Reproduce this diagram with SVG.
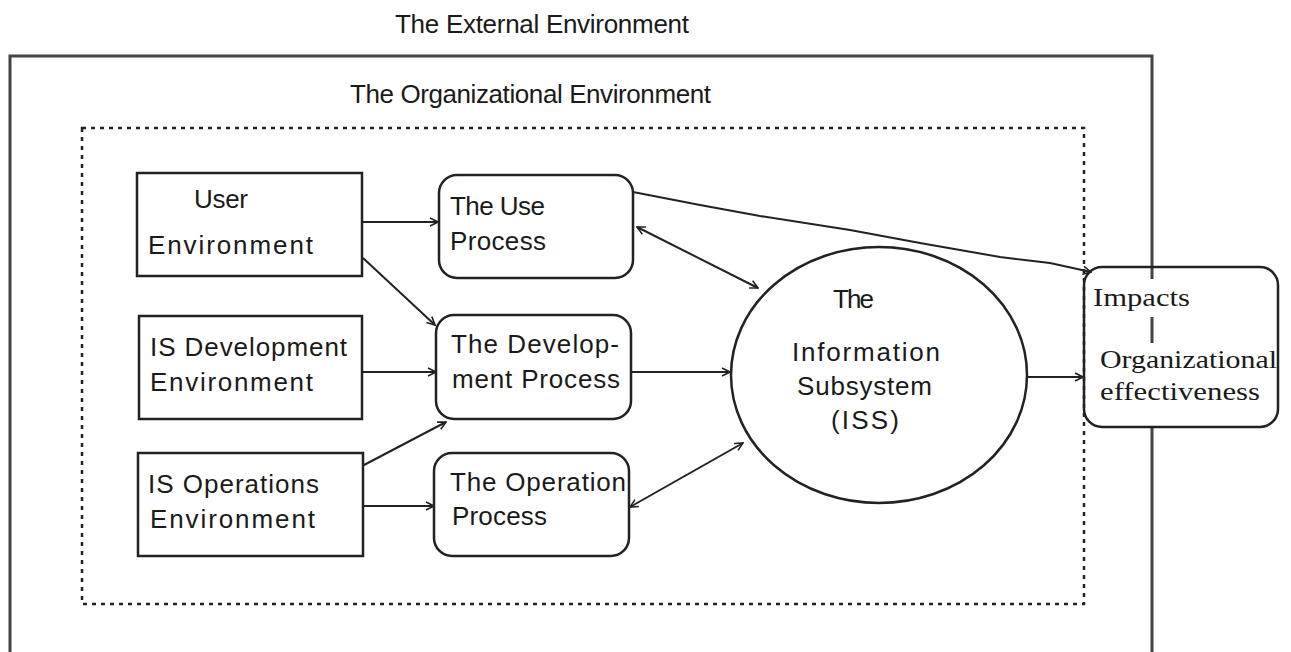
<svg xmlns="http://www.w3.org/2000/svg" width="1291" height="652" viewBox="0 0 1291 652">
<defs>
<style>
.t{font-family:"Liberation Sans",Arial,sans-serif;font-size:26px;fill:#1a1a1a}
.s{font-family:"Liberation Serif","Times New Roman",serif;font-size:26px;fill:#1a1a1a}
.box{fill:none;stroke:#222;stroke-width:2.5}
.c{fill:none;stroke:#222;stroke-width:2}
</style>
<marker id="ah" viewBox="0 0 10 10" refX="9" refY="5" markerWidth="10" markerHeight="10" markerUnits="userSpaceOnUse" orient="auto-start-reverse">
<path d="M1,1 L9,5 L1,9" fill="none" stroke="#222" stroke-width="1.6"/>
</marker>
</defs>
<rect width="1291" height="652" fill="#fff"/>
<g id="external">
<path d="M10,652 L10,56 L1152,56 L1152,279 M1152,317 L1152,343 M1152,427 L1152,652" fill="none" stroke="#444" stroke-width="3"/>
<text class="t" x="395" y="33" textLength="294" lengthAdjust="spacing">The External Environment</text>
</g>
<g id="organizational">
<rect x="82" y="128" width="1002" height="476" fill="none" stroke="#222" stroke-width="2.5" stroke-dasharray="4,5"/>
<text class="t" x="350" y="103" textLength="361" lengthAdjust="spacing">The Organizational Environment</text>
</g>
<g id="user-env">
<rect class="box" x="137" y="173" width="225" height="103"/>
<text class="t" x="194" y="208" textLength="54" lengthAdjust="spacing">User</text>
<text class="t" x="148" y="254" textLength="165" lengthAdjust="spacing">Environment</text>
</g>
<g id="isdev-env">
<rect class="box" x="139" y="316" width="223" height="103"/>
<text class="t" x="150" y="356" textLength="197" lengthAdjust="spacing">IS Development</text>
<text class="t" x="150" y="391" textLength="163" lengthAdjust="spacing">Environment</text>
</g>
<g id="isops-env">
<rect class="box" x="138" y="453" width="225" height="103"/>
<text class="t" x="148" y="493" textLength="171" lengthAdjust="spacing">IS Operations</text>
<text class="t" x="150" y="528" textLength="165" lengthAdjust="spacing">Environment</text>
</g>
<g id="use-process">
<rect class="box" x="439" y="175" width="194" height="103" rx="18"/>
<text class="t" x="450" y="215" textLength="95" lengthAdjust="spacing">The Use</text>
<text class="t" x="450" y="250" textLength="96" lengthAdjust="spacing">Process</text>
</g>
<g id="dev-process">
<rect class="box" x="436" y="315" width="195" height="104" rx="18"/>
<text class="t" x="451" y="353" textLength="168" lengthAdjust="spacing">The Develop-</text>
<text class="t" x="452" y="388" textLength="168" lengthAdjust="spacing">ment Process</text>
</g>
<g id="op-process">
<rect class="box" x="434" y="453" width="195" height="103" rx="18"/>
<text class="t" x="450" y="491" textLength="176" lengthAdjust="spacing">The Operation</text>
<text class="t" x="452" y="525" textLength="95" lengthAdjust="spacing">Process</text>
</g>
<g id="iss">
<ellipse class="box" cx="879" cy="375" rx="148" ry="128"/>
<text class="t" x="833" y="308" textLength="41" lengthAdjust="spacing">The</text>
<text class="t" x="792" y="361" textLength="148" lengthAdjust="spacing">Information</text>
<text class="t" x="797" y="395" textLength="135" lengthAdjust="spacing">Subsystem</text>
<text class="t" x="831" y="429" textLength="68" lengthAdjust="spacing">(ISS)</text>
</g>
<g id="impacts">
<rect class="box" x="1084" y="267" width="194" height="160" rx="18"/>
<text class="s" x="1093" y="306" textLength="97" lengthAdjust="spacingAndGlyphs">Impacts</text>
<text class="s" x="1100" y="368" textLength="177" lengthAdjust="spacingAndGlyphs">Organizational</text>
<text class="s" x="1100" y="400" textLength="160" lengthAdjust="spacingAndGlyphs">effectiveness</text>
</g>
<g id="connectors">
<line class="c" x1="362" y1="222" x2="438" y2="222" marker-end="url(#ah)"/>
<line class="c" x1="363" y1="258" x2="435" y2="325" marker-end="url(#ah)"/>
<line class="c" x1="362" y1="372" x2="436" y2="372" marker-end="url(#ah)"/>
<line class="c" x1="364" y1="465" x2="446" y2="422" marker-end="url(#ah)"/>
<line class="c" x1="363" y1="506" x2="434" y2="506" marker-end="url(#ah)"/>
<line class="c" x1="637" y1="227" x2="758" y2="288" marker-start="url(#ah)" marker-end="url(#ah)"/>
<line class="c" x1="631" y1="372" x2="730" y2="372" marker-end="url(#ah)"/>
<line class="c" x1="630" y1="507" x2="743" y2="443" marker-start="url(#ah)" marker-end="url(#ah)"/>
<path class="c" d="M633,192 L700,205 L760,216 L850,230 L920,243 L1000,257 L1050,263 L1091,272" marker-end="url(#ah)"/>
<line class="c" x1="1028" y1="377" x2="1083" y2="377" marker-end="url(#ah)"/>
</g>
</svg>
